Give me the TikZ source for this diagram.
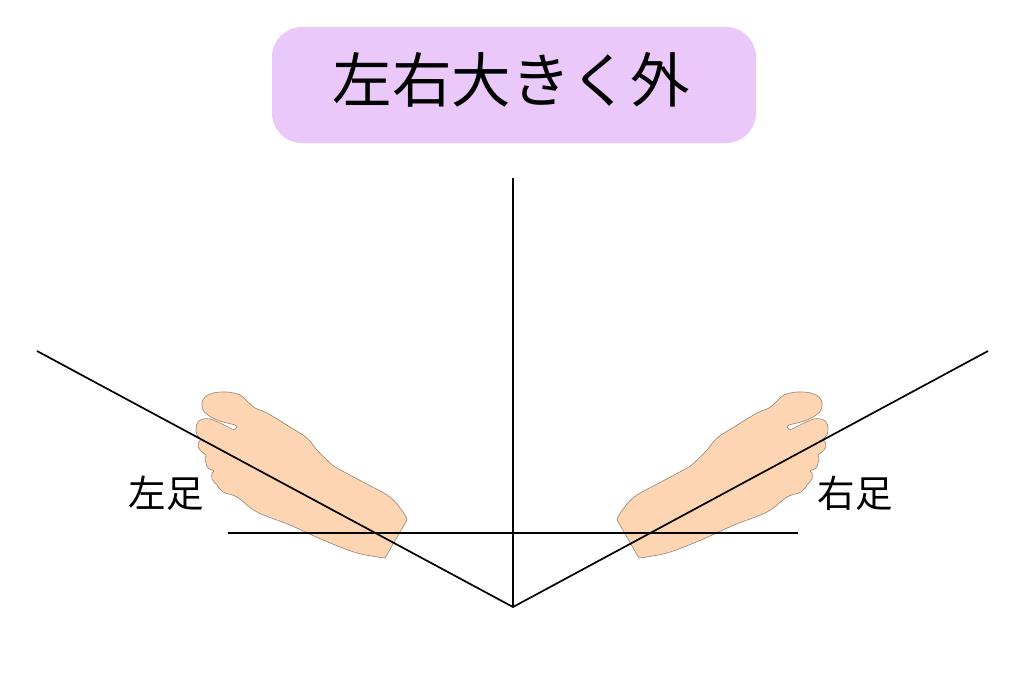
\documentclass[tikz,border=0pt]{standalone}
\usepackage{fontspec}
\setmainfont{Noto Sans CJK JP}
\begin{document}
\begin{tikzpicture}[x=1pt,y=-1pt,
  titlebox/.style={fill=titlepurple,rounded corners=30pt,minimum width=484pt,minimum height=116pt,inner sep=0pt},
  footlabel/.style={font=\fontsize{37.5}{40}\selectfont,inner sep=0pt},
  axisline/.style={line width=1.7pt,black},
  footshape/.style={fill=footpeach,draw=footedge,line width=0.6pt}]
\definecolor{titlepurple}{HTML}{EAC8F9}
\definecolor{footpeach}{HTML}{FDD5B2}
\definecolor{footedge}{HTML}{9A8272}
\useasboundingbox (0,0) rectangle (1024,678);
\fill[white] (0,0) rectangle (1024,678);
% title
\node[titlebox] (title) at (514,85) {};
\node[font=\fontsize{59.5}{64}\selectfont,inner sep=0pt] (titletext) at (511,80) {左右大きく外};
% feet
\def\footpath{%
  (407,520) -- (385,558) -- plot[smooth,tension=0.55] coordinates {
  (385,558) (357,553) (323,540) (290,525) (257,512) (237,497) (223,492) (217,485)
  (212,479) (212,473) (214,471) (208,468) (206,463) (205,458) (206,455) (202,452)
  (198,447) (199,442) (201,439) (197,435) (196,428) (198,422) (203,419) (210,419)
  (220,423) (230,428) (234,429.5) (237,427) (235,425) (227,423) (217,420) (208,415)
  (203,410) (202,403) (205,397) (213,393) (227,392) (240,395) (248,402) (255,408)
  (267,413) (290,427) (307,438) (317,450) (330,463) (337,468) (363,482) (390,497)
  (403,512) (407,520)} -- cycle}
\path[footshape] \footpath;
\begin{scope}[xshift=1024pt,xscale=-1]
\path[footshape] \footpath;
\end{scope}
% lines
\coordinate (vtop) at (513,178);
\coordinate (apex) at (513,607);
\coordinate (ltop) at (37,351);
\coordinate (rtop) at (988,351);
\coordinate (hl) at (228,533);
\coordinate (hr) at (798,533);
\draw[axisline] (vtop) -- (apex);
\draw[axisline] (ltop) -- (apex) -- (rtop);
\draw[axisline] (hl) -- (hr);
% labels
\node[footlabel] (leftlabel) at (166,493) {左足};
\node[footlabel] (rightlabel) at (855,493) {右足};
\end{tikzpicture}
\end{document}
